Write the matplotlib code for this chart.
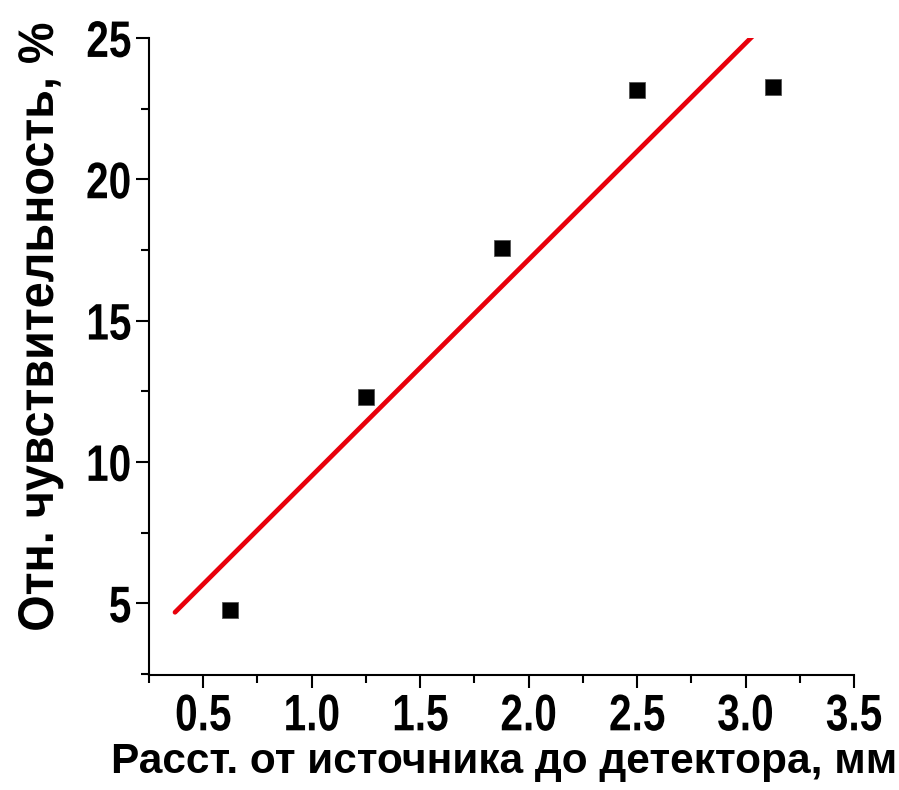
import matplotlib
matplotlib.use("Agg")
import matplotlib.pyplot as plt
import numpy as np
from matplotlib.patheffects import AbstractPathEffect
from matplotlib.ticker import MultipleLocator
from matplotlib.transforms import Affine2D

plt.rcParams['font.family'] = ['Liberation Sans', 'DejaVu Sans']
plt.rcParams['font.weight'] = 'bold'

distance_mm = [0.625, 1.25, 1.875, 2.5, 3.125]
sensitivity_pct = [4.75, 12.3, 17.55, 23.15, 23.25]
fit_x_range = [0.37, 3.3]

x_ticks = [0.5, 1.0, 1.5, 2.0, 2.5, 3.0, 3.5]
x_tick_labels = ["0.5", "1.0", "1.5", "2.0", "2.5", "3.0", "3.5"]
y_ticks = [5, 10, 15, 20, 25]

x_label = "Расст. от источника до детектора, мм"
y_label = "Отн. чувствительность, %"


class Squeeze(AbstractPathEffect):
    """Narrow the glyphs along the text direction (the original uses a narrow face)."""

    def __init__(self, factor, along='x', anchor='center'):
        super().__init__()
        self.factor = factor
        self.along = along
        self.anchor = anchor

    def draw_path(self, renderer, gc, tpath, affine, rgbFace=None):
        bb = tpath.get_extents(affine)
        if self.along == 'x':
            x0 = bb.x1 if self.anchor == 'right' else (bb.x0 + bb.x1) / 2
            sq = Affine2D().translate(-x0, 0).scale(self.factor, 1).translate(x0, 0)
        else:
            y0 = (bb.y0 + bb.y1) / 2
            sq = Affine2D().translate(0, -y0).scale(1, self.factor).translate(0, y0)
        renderer.draw_path(gc, tpath, affine + sq, rgbFace)


slope, intercept = np.polyfit(distance_mm, sensitivity_pct, 1)
fit_x = np.array(fit_x_range)
fit_y = slope * fit_x + intercept

fig = plt.figure(figsize=(8.99, 7.90), dpi=100)
ax = fig.add_axes([0.1657, 0.1456, 0.7843, 0.8064])

ax.plot(fit_x, fit_y, color='#e8000b', lw=3.4, solid_capstyle='round', zorder=2)
ax.plot(distance_mm, sensitivity_pct, 's', color='black', ms=11.5, mec='#555555', mew=0.6, zorder=3)

ax.set_xlim(0.25, 3.5)
ax.set_ylim(2.46, 25)
ax.set_xticks(x_ticks)
ax.set_xticklabels(x_tick_labels)
ax.set_yticks(y_ticks)
ax.xaxis.set_minor_locator(MultipleLocator(0.25))
ax.yaxis.set_minor_locator(MultipleLocator(2.5))

for side in ('top', 'right'):
    ax.spines[side].set_visible(False)
for side in ('left', 'bottom'):
    ax.spines[side].set_linewidth(1.5)

ax.tick_params(which='major', direction='out', length=9.5, width=1.5, labelsize=37, pad=3)
ax.tick_params(which='minor', direction='out', length=5.5, width=1.5)
for lab in ax.get_xticklabels():
    lab.set_path_effects([Squeeze(0.79)])
for lab in ax.get_yticklabels():
    lab.set_path_effects([Squeeze(0.79, anchor='right')])

ax.set_xlabel(x_label, fontsize=30.5, fontweight='bold', labelpad=1)
ax.xaxis.set_label_coords(0.504, -0.105)
ax.xaxis.label.set_va('top')
ylab = ax.set_ylabel(y_label, fontsize=36, fontweight='bold')
ylab.set_path_effects([Squeeze(0.935, along='y')])
ax.yaxis.set_label_coords(-0.122, 0.546)

fig.savefig("out.png", dpi=100)
